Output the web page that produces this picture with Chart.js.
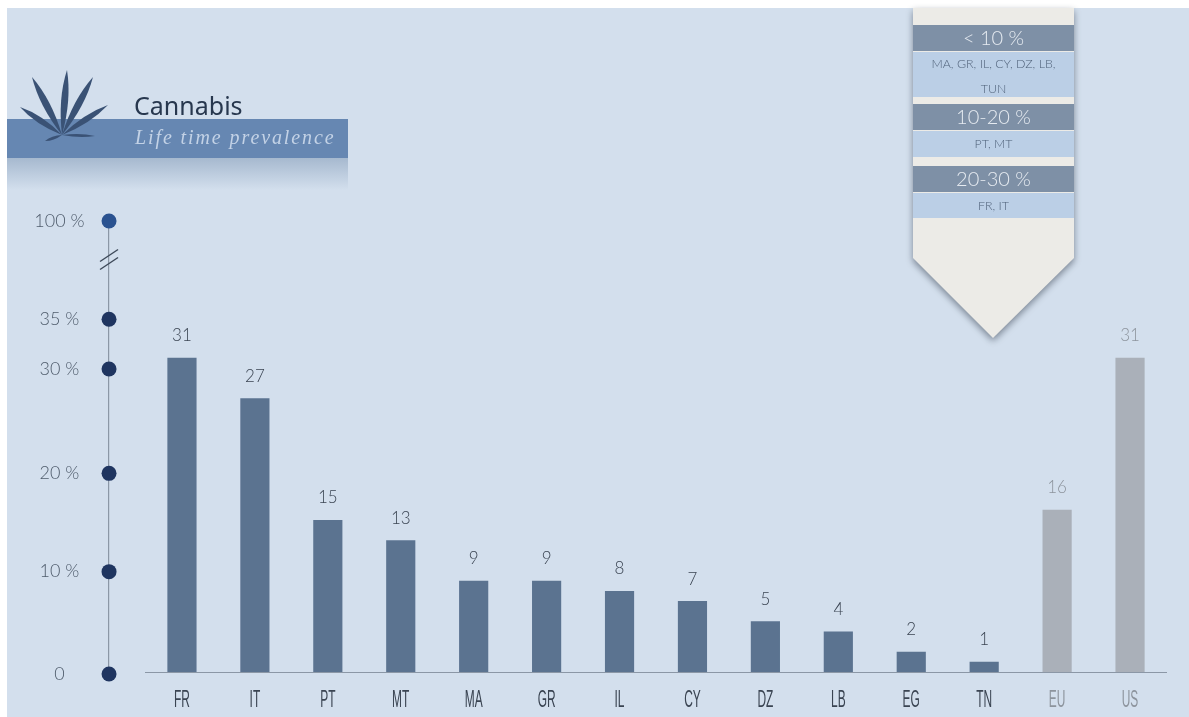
<!DOCTYPE html>
<html><head><meta charset="utf-8">
<style>html,body{margin:0;padding:0;background:#fff}canvas{display:block}</style>
<script src="https://cdn.jsdelivr.net/npm/chart.js@4/dist/chart.umd.min.js"></script>
</head><body><canvas id="c" width="1189" height="717"></canvas>
<script>
const categories=["FR","IT","PT","MT","MA","GR","IL","CY","DZ","LB","EG","TN","EU","US"];
const prevalence=[31,27,15,13,9,9,8,7,5,4,2,1,16,31];
const barColors=["#5b7390","#5b7390","#5b7390","#5b7390","#5b7390","#5b7390","#5b7390","#5b7390","#5b7390","#5b7390","#5b7390","#5b7390","#aab0b9","#aab0b9"];
const labelColors=["#3a4452","#3a4452","#3a4452","#3a4452","#3a4452","#3a4452","#3a4452","#3a4452","#3a4452","#3a4452","#3a4452","#3a4452","#8d949d","#8d949d"];
const axisPositions=[-0.2,9.9,19.6,29.9,34.8,44.5];
const axisLabels=["0","10 %","20 %","30 %","35 %","100 %"];
const axisDotColors=["#1f3560","#1f3560","#1f3560","#1f3560","#1f3560","#2a5290"];
const legendGroups=[
 {head:"< 10 %",lines:["MA, GR, IL, CY, DZ, LB,","TUN"]},
 {head:"10-20 %",lines:["PT, MT"]},
 {head:"20-30 %",lines:["FR, IT"]}
];

function leaflet(ctx,bx,by,tx,ty,w){
  const dx=tx-bx,dy=ty-by,l=Math.hypot(dx,dy),nx=-dy/l*w,ny=dx/l*w;
  const mx=bx+dx*.55,my=by+dy*.55;
  ctx.beginPath();ctx.moveTo(bx,by);
  ctx.quadraticCurveTo(mx+nx,my+ny,tx,ty);
  ctx.quadraticCurveTo(mx-nx,my-ny,bx,by);ctx.fill();
}
const decor={id:'decor',
 beforeDraw(ch){
  const c=ch.ctx;c.save();
  c.fillStyle='#d3dfed';c.fillRect(7,8,1182,709);
  let g=c.createLinearGradient(0,158,0,190);
  g.addColorStop(0,'#a6b9cf');g.addColorStop(1,'#d3dfed');
  c.fillStyle=g;c.fillRect(7,158,341,32);
  c.fillStyle='#6687b2';c.fillRect(7,119,341,39);
  c.fillStyle='#3a5275';
  [[67,70,7],[93,77,7],[32,77,7],[108,105,6],[20,107,6],[45,141,3],[95,136,3]].forEach(p=>leaflet(c,62,135,p[0],p[1],p[2]));
  c.textBaseline='middle';c.textAlign='left';
  c.font='25px "Noto Sans", sans-serif';c.fillStyle='#27374e';c.fillText('Cannabis',134,108);
  c.font='italic 20px "Liberation Serif", serif';c.fillStyle='#c3d2e6';c.letterSpacing='1.9px';c.fillText('Life time prevalence',135,139);c.letterSpacing='0px';
  c.save();c.shadowColor='rgba(60,70,85,.6)';c.shadowBlur=7;c.shadowOffsetY=3;
  c.fillStyle='#ecebe7';c.beginPath();c.moveTo(913,8);c.lineTo(1074,8);c.lineTo(1074,258);c.lineTo(993,338);c.lineTo(913,258);c.closePath();c.fill();c.restore();
  const rows=[[25,52,97],[104,131,157],[166,193,218]];
  c.textAlign='center';
  legendGroups.forEach((gr,i)=>{
    const r=rows[i];
    c.fillStyle='#7e90a6';c.fillRect(913,r[0],161,r[1]-r[0]-1);
    c.fillStyle='#bbcfe6';c.fillRect(913,r[1],161,r[2]-r[1]);
    c.font='300 20px Lato, sans-serif';c.fillStyle='#e6ebf1';c.fillText(gr.head,993.5,(r[0]+r[1])/2);
    c.font='300 12.4px Lato, sans-serif';c.fillStyle='#50627a';
    gr.lines.forEach((t,j)=>c.fillText(t,993.5,gr.lines.length>1?64+j*25:(r[1]+r[2])/2));
  });
  c.restore();
 },
 afterDatasetsDraw(ch){
  const c=ch.ctx,m=ch.getDatasetMeta(0),X=ch.scales.x,Y=ch.scales.y;c.save();
  c.font='300 17px Lato, sans-serif';c.textAlign='center';c.textBaseline='middle';
  m.data.forEach((b,i)=>{c.fillStyle=labelColors[i];c.fillText(prevalence[i],b.x,b.y-22);});
  // axis break slashes
  const ax=X.getPixelForValue(-1),ay=Y.getPixelForValue(40.7);
  c.strokeStyle='#3e4a5a';c.lineWidth=1.4;
  [-4,4].forEach(o=>{c.beginPath();c.moveTo(ax-9,ay+o+6);c.lineTo(ax+9,ay+o-6);c.stroke();});
  // axis dots and labels
  c.font='300 18px Lato, sans-serif';
  const lx=X.getPixelForValue(-1.68);
  axisLabels.forEach((t,i)=>{
    const y=Y.getPixelForValue(axisPositions[i]);
    c.fillStyle='#4f5c6c';c.fillText(t,lx,y);
    c.fillStyle=axisDotColors[i];c.beginPath();c.arc(ax,y,7.5,0,Math.PI*2);c.fill();
  });
  // condensed category labels
  c.font='23px "Liberation Sans", sans-serif';
  categories.forEach((t,i)=>{c.save();c.translate(X.getPixelForValue(i),701);c.scale(.52,1);c.fillStyle=labelColors[i];c.fillText(t,0,0);c.restore();});
  c.restore();
 }
};
new Chart(document.getElementById('c'),{
 data:{labels:categories,datasets:[
  {type:'bar',data:prevalence,backgroundColor:barColors,barPercentage:.4,categoryPercentage:1}
 ]},
 options:{responsive:false,animation:false,events:[],
  layout:{padding:{left:145.5,right:22.5,top:221,bottom:0}},
  plugins:{legend:{display:false},tooltip:{enabled:false}},
  scales:{
   x:{type:'category',offset:true,grid:{display:false,drawTicks:false},border:{color:'#8b97a6'},
      afterFit(s){s.height=45;},ticks:{display:false}},
   y:{type:'linear',min:0,max:44.5,position:{x:-1},grid:{display:false,drawTicks:false},border:{color:'#8b97a6',width:1.2},
      ticks:{display:false}}
  }},
 plugins:[decor]
});
</script></body></html>
